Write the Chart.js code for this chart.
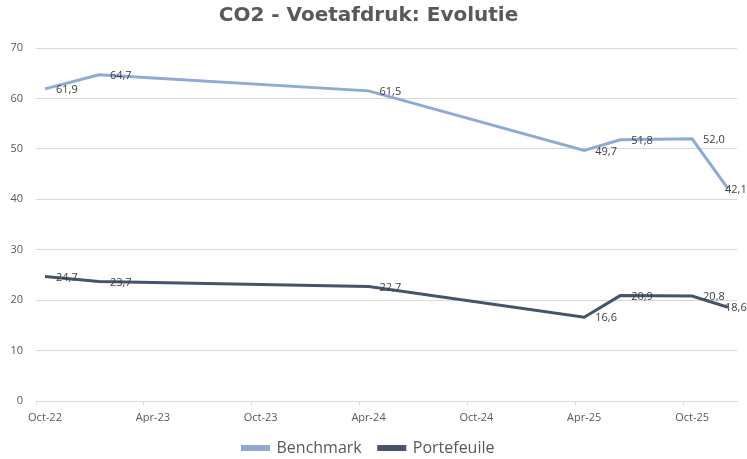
<!DOCTYPE html>
<html>
<head>
<meta charset="utf-8">
<script src="https://cdn.jsdelivr.net/npm/chart.js@4.4.1/dist/chart.umd.min.js"></script>
<style>
  html, body { margin: 0; padding: 0; background: #ffffff; }
  #wrap { width: 747px; height: 459px; }
</style>
</head>
<body>
<div id="wrap"><canvas id="co2Chart"></canvas></div>
<script>
// --- Data ---
const dates = ["Oct-22", "Jan-23", "Apr-24", "Apr-25", "Jun-25", "Oct-25", "Dec-25"];
const benchmark = [61.9, 64.7, 61.5, 49.7, 51.8, 52.0, 42.1];
const portefeuile = [24.7, 23.7, 22.7, 16.6, 20.9, 20.8, 18.6];
const tickLabels = ["Oct-22", "Apr-23", "Oct-23", "Apr-24", "Oct-24", "Apr-25", "Oct-25"];
const yTicks = [0, 10, 20, 30, 40, 50, 60, 70];

// --- Month axis helpers (axis runs Oct-22 .. Dec-25, points sit mid-month) ---
const months = ["Jan", "Feb", "Mar", "Apr", "May", "Jun", "Jul", "Aug", "Sep", "Oct", "Nov", "Dec"];
function monthIndex(label) {
  const [m, y] = label.split("-");
  return (2000 + parseInt(y) - 2022) * 12 + months.indexOf(m) - 9;
}
const axisMonths = monthIndex("Dec-25") + 1;

const toPoints = (vals) => vals.map((v, i) => ({ x: monthIndex(dates[i]) + 0.5, y: v }));

// --- Data labels in Excel style (right of point) ---
const valueLabels = {
  id: "valueLabels",
  afterDatasetsDraw(chart) {
    const ctx = chart.ctx;
    ctx.save();
    ctx.font = "11px 'Open Sans'";
    ctx.fillStyle = "#404040";
    ctx.textAlign = "left";
    ctx.textBaseline = "middle";
    chart.data.datasets.forEach((ds, di) => {
      const meta = chart.getDatasetMeta(di);
      meta.data.forEach((pt, i) => {
        const txt = ds.data[i].y.toFixed(1).replace(".", ",");
        const x = Math.min(pt.x + 11, chart.width - 22);
        ctx.fillText(txt, x, pt.y + 1);
      });
    });
    ctx.restore();
  },
};

const ctx = document.getElementById("co2Chart").getContext("2d");
new Chart(ctx, {
  type: "line",
  data: {
    datasets: [
      {
        label: "Benchmark",
        data: toPoints(benchmark),
        borderColor: "#8eaadb",
        backgroundColor: "#8eaadb",
        borderWidth: 3,
        pointRadius: 0,
        tension: 0,
      },
      {
        label: "Portefeuile",
        data: toPoints(portefeuile),
        borderColor: "#44546a",
        backgroundColor: "#44546a",
        borderWidth: 3,
        pointRadius: 0,
        tension: 0,
      },
    ],
  },
  options: {
    responsive: true,
    maintainAspectRatio: false,
    animation: false,
    layout: { padding: { left: 0, right: 10, top: 0, bottom: -7 } },
    scales: {
      x: {
        type: "linear",
        min: 0,
        max: axisMonths,
        afterBuildTicks: (scale) => {
          scale.ticks = tickLabels.map((t) => ({ value: monthIndex(t) }));
        },
        afterFit: (scale) => {
          scale.height = 22;
        },
        grid: { drawOnChartArea: false, drawTicks: true, tickLength: 4, color: "#d9d9d9" },
        border: { display: true, color: "#d9d9d9", width: 1 },
        ticks: {
          autoSkip: false,
          maxRotation: 0,
          padding: 6,
          labelOffset: 9,
          color: "#595959",
          font: { family: "'Open Sans'", size: 11 },
          callback: (v) => tickLabels[tickLabels.findIndex((t) => monthIndex(t) === v)],
        },
      },
      y: {
        min: 0,
        max: 70,
        afterBuildTicks: (scale) => {
          scale.ticks = yTicks.map((v) => ({ value: v }));
        },
        afterFit: (scale) => {
          scale.width = 36;
        },
        grid: { color: "#d9d9d9", lineWidth: 1, drawTicks: false },
        border: { display: false },
        ticks: {
          padding: 13,
          color: "#595959",
          font: { family: "'Open Sans'", size: 11 },
        },
      },
    },
    plugins: {
      title: {
        display: true,
        text: "CO2 - Voetafdruk: Evolutie",
        color: "#595959",
        font: { family: "'DejaVu Sans'", size: 20, weight: "bold" },
        padding: { top: 4, bottom: 20 },
      },
      legend: {
        position: "bottom",
        labels: {
          boxWidth: 26,
          boxHeight: 3,
          padding: 17,
          color: "#595959",
          font: { family: "'Open Sans'", size: 16 },
        },
      },
      tooltip: { enabled: false },
    },
  },
  plugins: [valueLabels],
});
</script>
</body>
</html>
